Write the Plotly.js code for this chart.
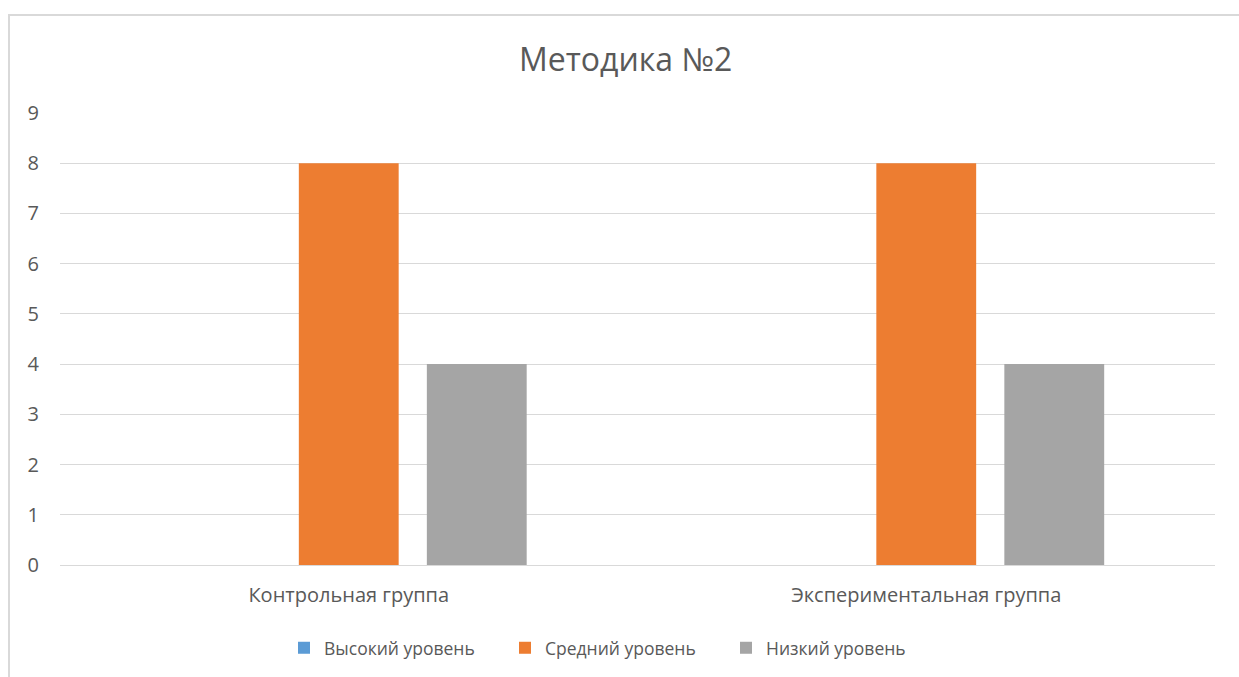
<!DOCTYPE html>
<html><head><meta charset="utf-8">
<script src="https://cdn.plot.ly/plotly-3.0.1.min.js"></script>
<style>
html,body{margin:0;padding:0;background:#fff;overflow:hidden}
#frame{position:absolute;left:8px;top:14px;width:1300px;height:700px;border-left:2px solid #d9d9d9;border-top:2px solid #d9d9d9;pointer-events:none;z-index:5}
#chart{position:absolute;left:0;top:0;width:1239px;height:677px}
</style></head>
<body>
<div id="chart"></div>
<div id="frame"></div>
<script>
const categories = ["Контрольная группа", "Экспериментальная группа"];
const seriesNames = ["Высокий уровень", "Средний уровень", "Низкий уровень"];
const high = [0, 0];
const medium = [8, 8];
const low = [4, 4];
const colors = ["#5b9bd5", "#ed7d31", "#a5a5a5"];
const yTicks = [0,1,2,3,4,5,6,7,8,9];

const font = "Open Sans, sans-serif";
const traces = [high, medium, low].map((vals, i) => ({
  type: "bar", x: categories, y: vals, name: seriesNames[i],
  marker: {color: colors[i]}, hoverinfo: "none"
}));

Plotly.newPlot("chart", traces, {
  width: 1239, height: 677,
  margin: {l: 60, r: 24, t: 113, b: 112},
  paper_bgcolor: "#fff", plot_bgcolor: "#fff",
  barmode: "group", bargap: 0.335, bargroupgap: 0.22,
  title: {text: "Методика №2", font: {family: font, size: 32, color: "#595959"},
          xref: "container", x: 0.505, xanchor: "center", yref: "container", y: 0.911, yanchor: "middle"},
  xaxis: {showgrid: false, zeroline: false, showline: false, ticks: "",
          tickfont: {family: font, size: 20, color: "#595959"}, ticklabelstandoff: 16},
  yaxis: {range: [0, 9], tickvals: yTicks, showgrid: true, gridcolor: "#d9d9d9", gridwidth: 1,
          zeroline: true, zerolinecolor: "#d9d9d9", zerolinewidth: 1, showline: false, ticks: "",
          tickfont: {family: font, size: 20, color: "#595959"}, ticklabelstandoff: 20},
  showlegend: true,
  legend: {orientation: "h", xref: "container", yref: "container", x: 284/1239, xanchor: "left",
           y: 0.043, yanchor: "middle",
           font: {family: font, size: 17.5, color: "#595959"},
           itemwidth: 30, entrywidth: 176, entrywidthmode: "pixels", traceorder: "normal"}
}, {displayModeBar: false, staticPlot: true});
</script>
</body></html>
